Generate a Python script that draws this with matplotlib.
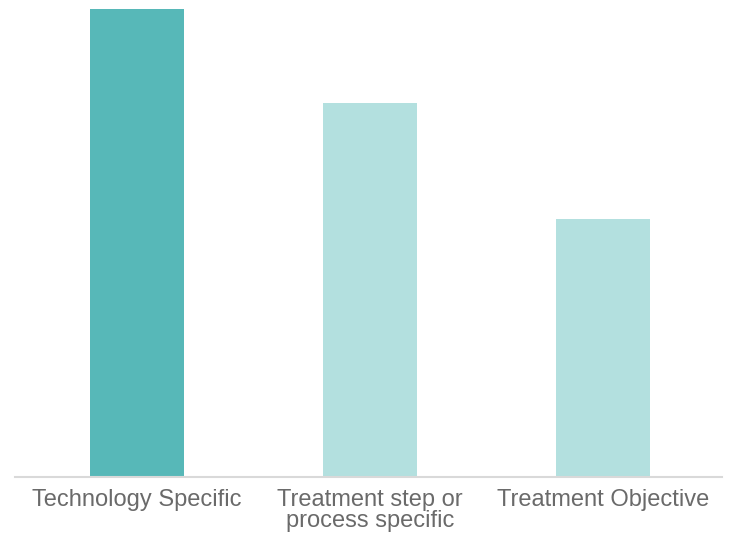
import matplotlib.pyplot as plt

# Data
categories = ['Technology Specific', 'Treatment step or\nprocess specific', 'Treatment Objective']
values = [100, 80, 55]
colors = ['#57B8B8', '#B3E0DF', '#B3E0DF']

plt.rcParams['font.family'] = ['Liberation Sans', 'DejaVu Sans']

fig = plt.figure(figsize=(7.31, 5.37), dpi=100)
ax = fig.add_axes([15 / 731, 0.1123, 707 / 731, 1 - 9 / 537 - 0.1123])

x = range(len(categories))
ax.bar(x, values, width=0.403, color=colors)

ax.set_xlim(-0.524, 2.51)
ax.set_ylim(0, 100)
ax.set_xticks(list(x))
ax.set_xticklabels(categories, fontsize=17, color='#6A6A6A',
                   linespacing=0.92)
ax.tick_params(axis='x', length=0, pad=9)
ax.set_yticks([])

for side in ['top', 'right', 'left']:
    ax.spines[side].set_visible(False)
ax.spines['bottom'].set_color('#D9D9D9')
ax.spines['bottom'].set_linewidth(1.5)

plt.savefig('out.png', dpi=100)
